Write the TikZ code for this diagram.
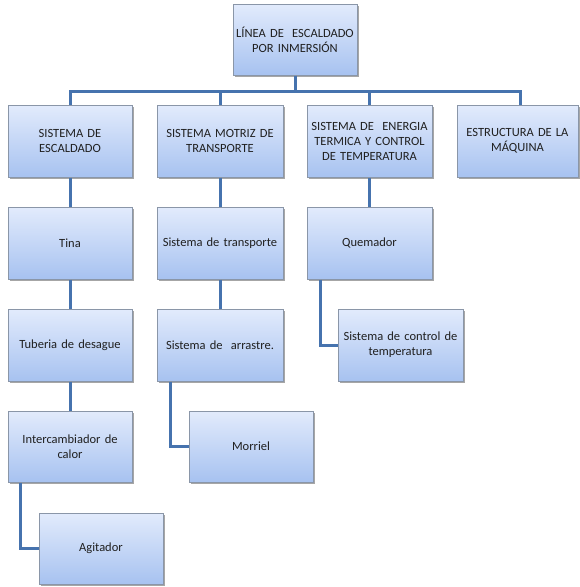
\documentclass[tikz,border=0pt]{standalone}
\usepackage{fontspec}
\setmainfont{Carlito}
\usetikzlibrary{shadows}
\definecolor{boxtop}{HTML}{E2EBFC}
\definecolor{boxbot}{HTML}{A7C2F0}
\definecolor{boxline}{HTML}{8A96A8}
\definecolor{conn}{HTML}{4673AE}
\definecolor{txt}{HTML}{202020}
\tikzset{
  box/.style={rectangle, draw=boxline, line width=1pt,
    top color=boxtop, bottom color=boxbot,
    minimum width=124pt, minimum height=72pt, inner sep=1pt,
    align=center, text width=122pt, text=txt,
    font=\fontsize{12.5}{15}\selectfont,
    drop shadow={shadow xshift=1.5pt, shadow yshift=-1.5pt, opacity=0.35, fill=black}},
  link/.style={draw=conn, line width=3pt}
}
\begin{document}
\begin{tikzpicture}[x=1pt,y=-1pt]
\useasboundingbox (0,0) rectangle (579,587);
% top
\node[box, minimum width=124pt, minimum height=71pt] (top) at (295,39.5) {LÍNEA DE~ ESCALDADO\\POR INMERSIÓN};
% row 1
\node[box] (a1) at (70,141) {SISTEMA DE\\ESCALDADO};
\node[box, minimum width=126pt] (b1) at (220,141) {SISTEMA MOTRIZ DE\\TRANSPORTE};
\node[box, minimum width=125pt] (c1) at (369.5,141) {SISTEMA DE~ ENERGIA\\TERMICA Y CONTROL\\DE TEMPERATURA};
\node[box, minimum width=121pt, text width=119pt] (d1) at (517.5,141) {ESTRUCTURA DE LA\\MÁQUINA};
% row 2
\node[box] (a2) at (70,243) {Tina};
\node[box, minimum width=126pt] (b2) at (220,243) {Sistema de transporte};
\node[box, minimum width=125pt] (c2) at (369.5,243) {Quemador};
% row 3
\node[box] (a3) at (70,345) {Tuberia de desague};
\node[box, minimum width=126pt] (b3) at (220,345) {Sistema de~ arrastre.};
\node[box, minimum width=125pt] (c3) at (400.5,345) {Sistema de control de\\temperatura};
% row 4
\node[box, minimum height=71pt] (a4) at (70,446.5) {Intercambiador de\\calor};
\node[box, minimum height=71pt] (b4) at (251,446.5) {Morriel};
% row 5
\node[box, minimum height=71pt] (a5) at (101,548.5) {Agitador};
% bus
\coordinate (bus) at (295,91);
\coordinate (busL) at (70,91);
\coordinate (busR) at (520,91);
\draw[link] (top.south) -- (bus);
\draw[link, line join=miter] (a1.north) -- (busL) -- (busR) -- (busR |- d1.north);
\draw[link] (b1.north) -- (b1.north |- bus);
\draw[link] (c1.north) -- (c1.north |- bus);
\draw[link] (a1) -- (a2);
\draw[link] (a2) -- (a3);
\draw[link] (a3) -- (a4);
\draw[link] (b1) -- (b2);
\draw[link] (b2) -- (b3);
\draw[link] (c1) -- (c2);
\draw[link, line join=miter] ([xshift=-49.5pt]c2.south) |- (c3.west);
\draw[link, line join=miter] ([xshift=-50pt]b3.south) |- (b4.west);
\draw[link, line join=miter] ([xshift=-50pt]a4.south) |- (a5.west);
\end{tikzpicture}
\end{document}
